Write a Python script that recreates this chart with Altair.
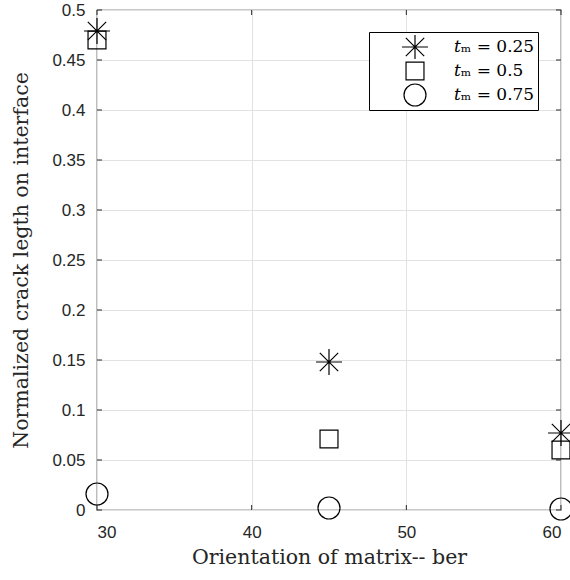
import altair as alt
import pandas as pd

# Measured normalized crack length along the interface
orientation = [30, 45, 60]
series_labels = ["\U0001D461\u2098 = 0.25", "\U0001D461\u2098 = 0.5", "\U0001D461\u2098 = 0.75"]
crack_025 = [0.479, 0.148, 0.077]
crack_050 = [0.470, 0.071, 0.060]
crack_075 = [0.016, 0.002, 0.001]

x_ticks = [30, 40, 50, 60]
y_ticks = [0, 0.05, 0.1, 0.15, 0.2, 0.25, 0.3, 0.35, 0.4, 0.45, 0.5]

rows = []
for label, vals in zip(series_labels, [crack_025, crack_050, crack_075]):
    for o, v in zip(orientation, vals):
        rows.append({"orientation": o, "crack": v, "series": label})
df = pd.DataFrame(rows)

# marker outlines in unit coordinates: asterisk, square, circle
star = ("M-1,0L1,0M0,-1L0,1M-0.707,-0.707L0.707,0.707"
        "M-0.707,0.707L0.707,-0.707")
square = "M-0.69,-0.69L0.69,-0.69L0.69,0.69L-0.69,0.69Z"
circle = ("M0.846,0A0.846,0.846,0,1,1,-0.846,0"
          "A0.846,0.846,0,1,1,0.846,0Z")

W, H = 464, 500
SERIF = "DejaVu Serif"
xscale = alt.Scale(domain=[30, 60], nice=False, zero=False)
yscale = alt.Scale(domain=[0, 0.5], nice=False)

x_axis = alt.Axis(
    values=x_ticks, tickSize=0, domain=False, grid=True,
    gridColor="#e2e2e2", labelFont="Liberation Sans", labelFontSize=17,
    labelColor="#262626", labelPadding=14,
    title="Orientation of matrix-- ber", titleFont=SERIF,
    titleFontSize=20.5, titleFontWeight="normal", titleColor="#262626",
    titleBaseline="alphabetic", titleX=W / 2, titleY=53,
)
y_axis = alt.Axis(
    values=y_ticks, format=".2~f", tickSize=0, domain=False, grid=True,
    gridColor="#e2e2e2", labelFont="Liberation Sans", labelFontSize=17,
    labelColor="#262626", labelPadding=12,
    title="Normalized crack legth on interface", titleFont=SERIF,
    titleFontSize=20.5, titleFontWeight="normal", titleColor="#262626",
    titleBaseline="alphabetic", titleX=-70, titleY=H / 2,
)

points = alt.Chart(df).mark_point(
    filled=False, color="black", strokeWidth=1.2, size=676, opacity=1
).encode(
    x=alt.X("orientation:Q", scale=xscale, axis=x_axis),
    y=alt.Y("crack:Q", scale=yscale, axis=y_axis),
    shape=alt.Shape(
        "series:N",
        scale=alt.Scale(domain=series_labels, range=[star, square, circle]),
        legend=alt.Legend(
            title=None, orient="none", legendX=272, legendY=22,
            strokeColor="black", fillColor="white", padding=3,
            symbolOffset=29, labelOffset=25, rowPadding=0, clipHeight=24,
            symbolSize=676, symbolStrokeWidth=1.2, symbolStrokeColor="black",
            labelFont=SERIF, labelFontSize=17,
            labelColor="black", labelLimit=200,
        ),
    ),
)

xt = pd.DataFrame({"v": x_ticks})
yt = pd.DataFrame({"v": y_ticks})
tick_style = dict(color="#262626", strokeWidth=1)

x_bottom = alt.Chart(xt).mark_rule(**tick_style).encode(
    x=alt.X("v:Q", scale=xscale), y=alt.value(H), y2=alt.value(H - 5))
x_top = alt.Chart(xt).mark_rule(**tick_style).encode(
    x=alt.X("v:Q", scale=xscale), y=alt.value(0), y2=alt.value(5))
y_left = alt.Chart(yt).mark_rule(**tick_style).encode(
    y=alt.Y("v:Q", scale=yscale), x=alt.value(0), x2=alt.value(5))
y_right = alt.Chart(yt).mark_rule(**tick_style).encode(
    y=alt.Y("v:Q", scale=yscale), x=alt.value(W), x2=alt.value(W - 5))

chart = alt.layer(x_bottom, x_top, y_left, y_right, points).properties(
    width=W, height=H,
    autosize=alt.AutoSizeParams(type="none"),
    padding={"left": 97, "top": 10, "right": 9, "bottom": 70},
    background="white",
).configure_view(stroke="#262626", strokeWidth=1.2)

chart.save("out.html", embed_options={"renderer": "svg", "actions": False})
